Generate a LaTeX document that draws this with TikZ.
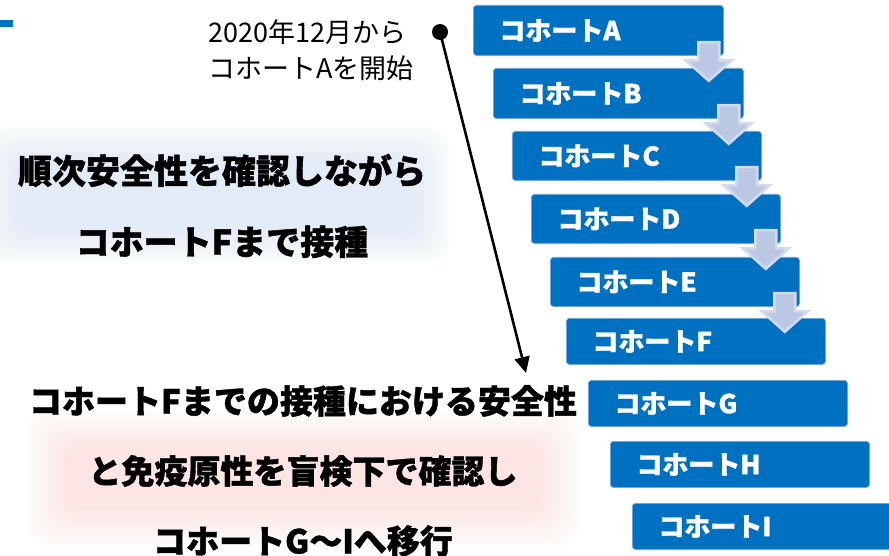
\documentclass[tikz,border=0pt]{standalone}
\usepackage{fontspec}
\setmainfont{Noto Sans CJK JP}[BoldFeatures={FakeBold=1.2}]
\usetikzlibrary{calc,arrows.meta}
\definecolor{boxblue}{RGB}{0,112,192}
\definecolor{boxedge}{RGB}{110,165,218}
\definecolor{arrfill}{RGB}{186,200,228}
\definecolor{arredge}{RGB}{212,218,238}
\definecolor{glowblue}{RGB}{219,236,248}
\definecolor{glowpink}{RGB}{252,226,222}
\tikzset{
  cbox/.style={draw=boxedge, line width=0.8pt, fill=boxblue, rounded corners=3pt,
    anchor=north west, inner xsep=26pt, inner ysep=0pt, align=left, text=white,
    font=\fontsize{26}{30}\selectfont\bfseries},
  bigtext/.style={align=center, text=black, font=\fontsize{33}{70}\selectfont\bfseries},
  notetext/.style={align=left, anchor=west, text=black, font=\fontsize{27}{36}\selectfont},
  downarr/.pic={\filldraw[fill=arrfill, draw=arredge, line width=2.6pt, line join=miter]
     (-10.5,1.3) -- (10.5,1.3) -- (10.5,19.5) -- (23,19.5) -- (0,40) -- (-23,19.5) -- (-10.5,19.5) -- cycle;}
}
\begin{document}
\begin{tikzpicture}[x=1pt, y=-1pt]
\clip (0,0) rectangle (889,556);
\fill[white] (0,0) rectangle (889,556);
% top-left mark
\fill[boxblue] (0,20) rectangle (13,27);
% glows
\foreach \i in {0,...,24}
  \fill[glowblue, opacity=0.035, rounded corners=20pt] (-16+\i*1.6,126+\i*1.6) rectangle (450-\i*1.6,264-\i*1.6);
\foreach \i in {0,...,24}
  \fill[glowpink, opacity=0.035, rounded corners=20pt] (28+\i*1.6,410+\i*1.6) rectangle (578-\i*1.6,546-\i*1.6);
% cohort boxes
\node[cbox, text width=198pt, minimum height=50pt] (A) at (473,5) {コホートA};
\node[cbox, text width=198pt, minimum height=50pt] (B) at (493,68) {コホートB};
\node[cbox, text width=197pt, minimum height=49pt] (C) at (512,131) {コホートC};
\node[cbox, text width=197pt, minimum height=49pt] (D) at (531,194) {コホートD};
\node[cbox, text width=197pt, minimum height=49pt] (E) at (550,257) {コホートE};
\node[cbox, text width=207pt, minimum height=46pt] (F) at (566,318) {コホートF};
\node[cbox, text width=207pt, minimum height=46pt] (G) at (588,380) {コホートG};
\node[cbox, text width=207pt, minimum height=46pt] (H) at (610,441) {コホートH};
\node[cbox, text width=210pt, minimum height=46pt] (I) at (632,503) {コホートI};
% block arrows
\foreach \n in {A,B,C,D,E}
  \pic at ($(\n.south east)+(-15,-15)$) {downarr};
% annotation
\node[notetext] (note) at (205,50) {2020年12月から\\コホートAを開始};
\coordinate (dot) at (440,32);
\coordinate (tip) at (526,373);
\fill (dot) circle (8pt);
\draw[line width=2.6pt, -{Triangle[length=16pt,width=15pt]}] (dot) -- (tip);
% big texts
\node[bigtext, font=\fontsize{34}{71}\selectfont\bfseries] (t1) at (222,206) {順次安全性を確認しながら\\コホートFまで接種};
\node[bigtext] (t2) at (303,471) {コホートFまでの接種における安全性\\と免疫原性を盲検下で確認し\\コホートG～Iへ移行};
\end{tikzpicture}
\end{document}
